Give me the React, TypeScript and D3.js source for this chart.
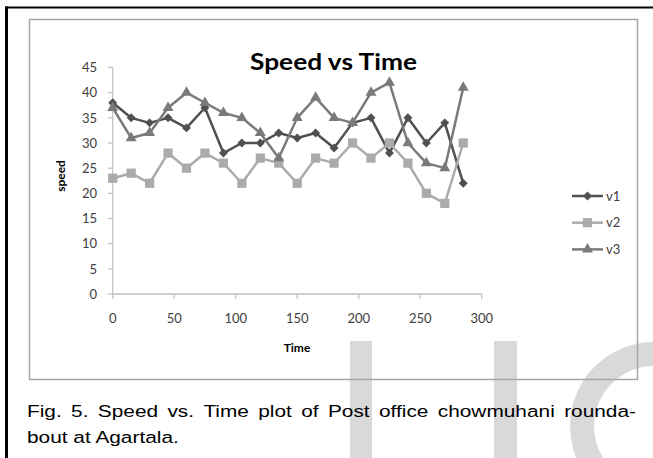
import React from "react";
import * as d3 from "d3";

const times = [0, 15, 30, 45, 60, 75, 90, 105, 120, 135, 150, 165, 180, 195, 210, 225, 240, 255, 270, 285];
const v1 = [38, 35, 34, 35, 33, 37, 28, 30, 30, 32, 31, 32, 29, 34, 35, 28, 35, 30, 34, 22];
const v2 = [23, 24, 22, 28, 25, 28, 26, 22, 27, 26, 22, 27, 26, 30, 27, 30, 26, 20, 18, 30];
const v3 = [37, 31, 32, 37, 40, 38, 36, 35, 32, 27, 35, 39, 35, 34, 40, 42, 30, 26, 25, 41];
const seriesNames = ["v1", "v2", "v3"];
const xTicks = [0, 50, 100, 150, 200, 250, 300];
const yTicks = [0, 5, 10, 15, 20, 25, 30, 35, 40, 45];
const titleText = "Speed vs Time";
const xLabel = "Time";
const yLabel = "speed";
const captionLine1 = "Fig. 5. Speed vs. Time plot of Post office chowmuhani rounda-";
const captionLine2 = "bout at Agartala.";

const W = 653;
const H = 458;
const x = d3.scaleLinear().domain([0, 300]).range([112.7, 481.7]);
const y = d3.scaleLinear().domain([0, 45]).range([294, 67.5]);

const colors = ["#505050", "#ababab", "#7a7a7a"];
const symbols = [
  d3.symbol().type(d3.symbolSquare).size(40)(),
  d3.symbol().type(d3.symbolSquare).size(85)(),
  d3.symbol().type(d3.symbolTriangle).size(52)(),
];
const rotations = [45, 0, 0];
const chartFont = "Lato, 'Open Sans', sans-serif";
const capFont = "'Liberation Sans', Arial, sans-serif";

function measure(text: string, font: string): number {
  if (typeof document === "undefined") return text.length * 8;
  const c = document.createElement("canvas");
  const ctx = c.getContext("2d")!;
  ctx.font = font;
  return ctx.measureText(text).width;
}

function Marker({ i, cx, cy }: { i: number; cx: number; cy: number }) {
  return (
    <path
      d={symbols[i] as string}
      transform={`translate(${cx},${cy}) rotate(${rotations[i]})`}
      fill={colors[i]}
    />
  );
}

export default function App() {
  const data = [v1, v2, v3];
  const line = d3
    .line<[number, number]>()
    .x((d) => x(d[0]))
    .y((d) => y(d[1]));

  const capSize = 17;
  const capLeft = 27;
  const capRight = 636;
  const font = `${capSize}px ${capFont}`;
  const line2W = measure(captionLine2, font);
  const sx = 153 / line2W;
  const words = captionLine1.split(" ");
  const wordsW = words.map((w) => measure(w, font));
  const totalW = d3.sum(wordsW);
  const localWidth = (capRight - capLeft) / sx;
  const gap = (localWidth - totalW) / (words.length - 1);
  const wordX: number[] = [];
  let acc = 0;
  wordsW.forEach((w) => {
    wordX.push(acc);
    acc += w + gap;
  });

  return (
    <svg
      width={W}
      height={H}
      style={{ position: "absolute", left: 0, top: 0, background: "#fff" }}
    >
      {/* watermark */}
      <g fill="#d9d9d9">
        <rect x={350} y={341} width={22} height={H - 341} />
        <rect x={494} y={341} width={23} height={H - 341} />
        <path
          d={d3.arc()({
            innerRadius: 60,
            outerRadius: 84,
            startAngle: -Math.PI / 2 - 0.55,
            endAngle: 0.05,
          }) as string}
          transform="translate(654,426)"
        />
      </g>

      {/* outer page borders */}
      <line x1={5} x2={W} y1={7.5} y2={7.5} stroke="#000" strokeWidth={2} />
      <line x1={6.5} x2={6.5} y1={6.5} y2={H} stroke="#000" strokeWidth={3} />

      {/* chart frame */}
      <rect x={29.5} y={19.5} width={608} height={360} fill="none" stroke="#a6a6a6" strokeWidth={1.5} />

      {/* title */}
      <text
        x={333.5}
        y={70}
        textAnchor="middle"
        fontFamily={chartFont}
        fontWeight={700}
        fontSize={22}
        fill="#000"
        textLength={167}
        lengthAdjust="spacingAndGlyphs"
      >
        {titleText}
      </text>

      {/* axes */}
      <line x1={x(0)} x2={x(0)} y1={y(45)} y2={y(0)} stroke="#bfbfbf" strokeWidth={1.2} />
      <line x1={x(0)} x2={x(300)} y1={y(0)} y2={y(0)} stroke="#bfbfbf" strokeWidth={1.5} />
      {yTicks.map((t) => (
        <g key={"y" + t}>
          <line x1={x(0) - 5} x2={x(0)} y1={y(t)} y2={y(t)} stroke="#bfbfbf" strokeWidth={1.2} />
          <text
            x={97}
            y={y(t)}
            dy="0.36em"
            textAnchor="end"
            fontFamily={chartFont}
            fontSize={13}
            fill="#404040"
          >
            {t}
          </text>
        </g>
      ))}
      {xTicks.map((t) => (
        <g key={"x" + t}>
          <line x1={x(t)} x2={x(t)} y1={y(0)} y2={y(0) + 5} stroke="#bfbfbf" strokeWidth={1.2} />
          <text
            x={x(t)}
            y={322.5}
            textAnchor="middle"
            fontFamily={chartFont}
            fontSize={13}
            fill="#404040"
          >
            {t}
          </text>
        </g>
      ))}
      <text
        x={297}
        y={351.5}
        textAnchor="middle"
        fontFamily={chartFont}
        fontWeight={700}
        fontSize={12}
        fill="#000"
      >
        {xLabel}
      </text>
      <text
        transform="translate(65,176) rotate(-90)"
        textAnchor="middle"
        fontFamily={chartFont}
        fontWeight={700}
        fontSize={12}
        fill="#000"
      >
        {yLabel}
      </text>

      {/* series */}
      {data.map((vals, i) => {
        const pts = times.map((t, k) => [t, vals[k]] as [number, number]);
        return (
          <g key={"s" + i}>
            <path d={line(pts) as string} fill="none" stroke={colors[i]} strokeWidth={2.5} strokeLinejoin="round" />
            {pts.map((p, k) => (
              <Marker key={k} i={i} cx={x(p[0])} cy={y(p[1])} />
            ))}
          </g>
        );
      })}

      {/* legend */}
      {seriesNames.map((n, i) => {
        const ly = 196 + i * 26.7;
        return (
          <g key={"l" + n}>
            <line x1={572} x2={603} y1={ly} y2={ly} stroke={colors[i]} strokeWidth={2.5} />
            <Marker i={i} cx={587.5} cy={ly} />
            <text x={606} y={ly} dy="0.36em" fontFamily={chartFont} fontSize={13} fill="#404040">
              {n}
            </text>
          </g>
        );
      })}

      {/* caption */}
      <g fontFamily={capFont} fontSize={capSize} fill="#000" transform={`translate(${capLeft},0) scale(${sx},1)`}>
        {words.map((w, k) => (
          <text key={k} x={wordX[k]} y={417}>
            {w}
          </text>
        ))}
        <text x={0} y={443.5}>
          {captionLine2}
        </text>
      </g>
    </svg>
  );
}
